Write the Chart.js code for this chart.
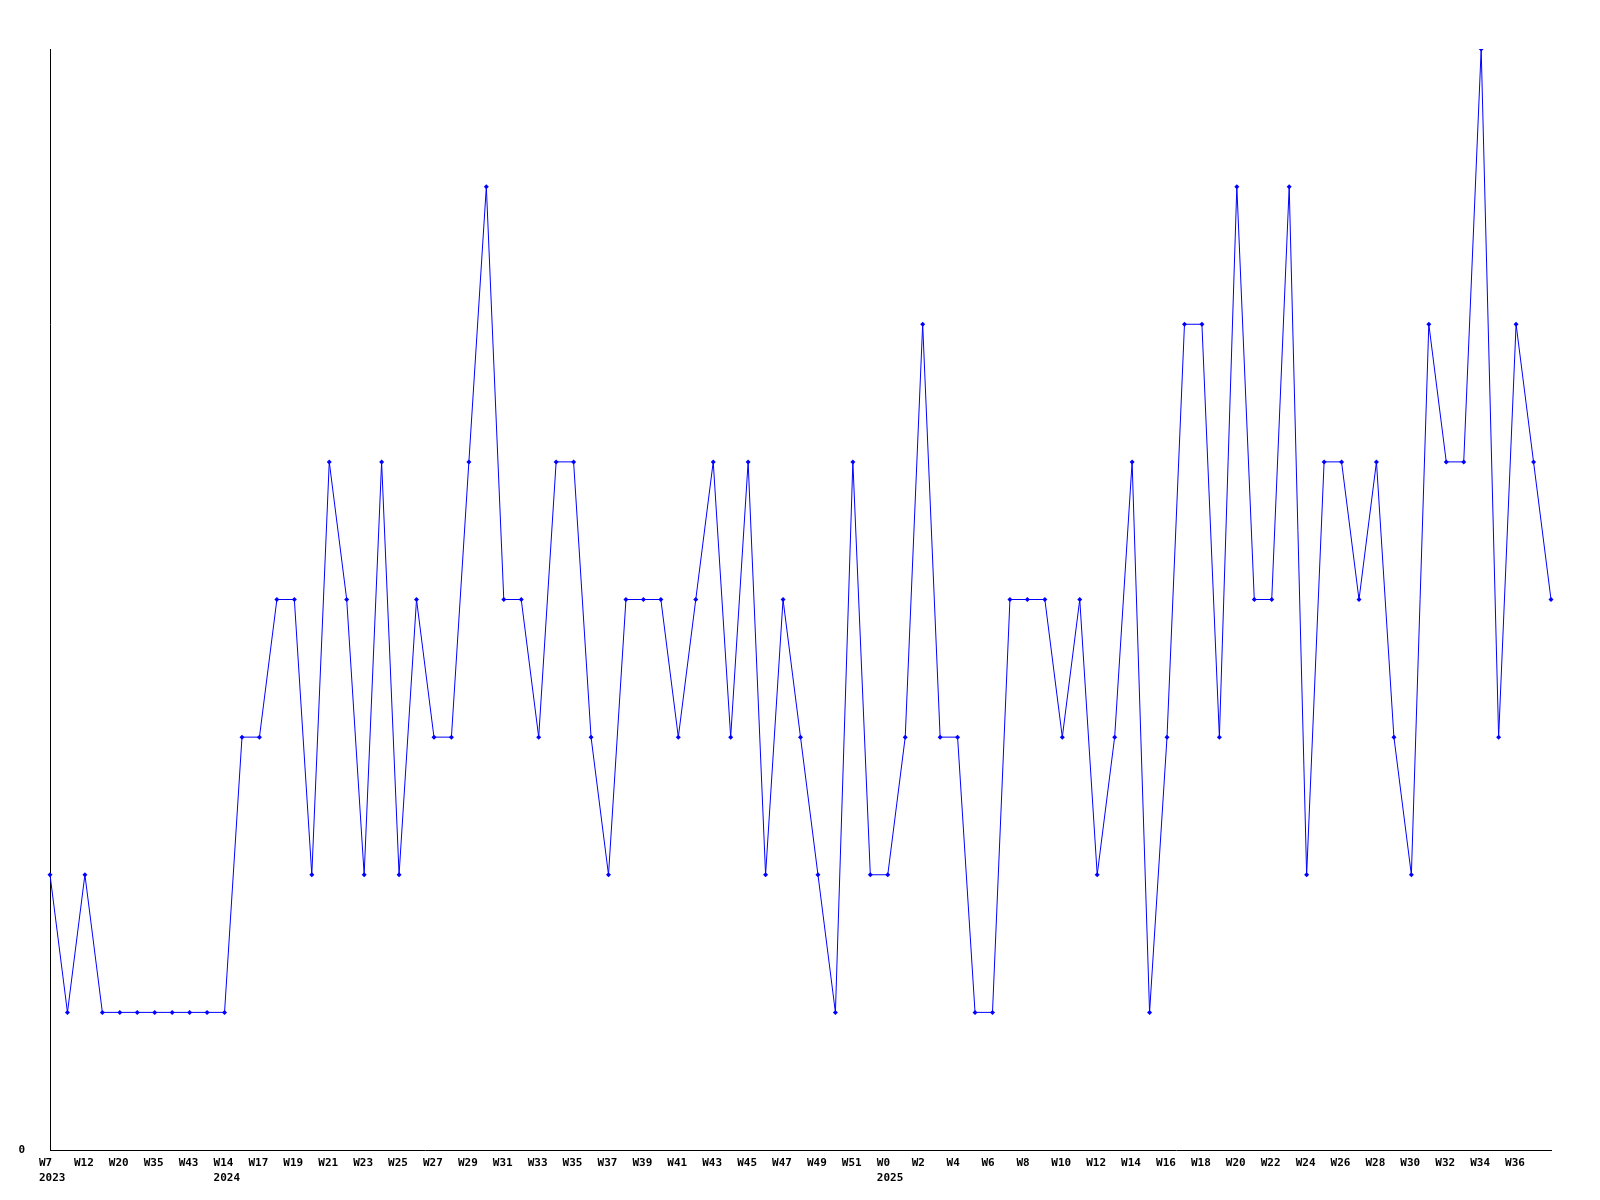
<!DOCTYPE html>
<html>
<head>
<meta charset="utf-8">
<script src="https://cdn.jsdelivr.net/npm/chart.js@4/dist/chart.umd.min.js"></script>
<style>
  html, body { margin: 0; padding: 0; background: #fff; }
  #wrap { width: 1600px; height: 1200px; }
</style>
</head>
<body>
<div id="wrap"><canvas id="weekChart" width="1600" height="1200"></canvas></div>
<script>
// weeks on the x axis (only every other one is printed)
const weeks = [
  'W7', 'W9', 'W12', 'W15', 'W20', 'W28', 'W35', 'W39', 'W43', 'W48',
  'W14', 'W16', 'W17', 'W18', 'W19', 'W20', 'W21', 'W22', 'W23', 'W24',
  'W25', 'W26', 'W27', 'W28', 'W29', 'W30', 'W31', 'W32', 'W33', 'W34',
  'W35', 'W36', 'W37', 'W38', 'W39', 'W40', 'W41', 'W42', 'W43', 'W44',
  'W45', 'W46', 'W47', 'W48', 'W49', 'W50', 'W51', 'W52',
  'W0', 'W1', 'W2', 'W3', 'W4', 'W5', 'W6', 'W7', 'W8', 'W9',
  'W10', 'W11', 'W12', 'W13', 'W14', 'W15', 'W16', 'W17', 'W18', 'W19',
  'W20', 'W21', 'W22', 'W23', 'W24', 'W25', 'W26', 'W27', 'W28', 'W29',
  'W30', 'W31', 'W32', 'W33', 'W34', 'W35', 'W36', 'W37', 'W38'
];

// year printed under the first week of each year
const yearStarts = { 0: '2023', 10: '2024', 48: '2025' };

// weekly counts
const counts = [
  2, 1, 2, 1, 1, 1, 1, 1, 1, 1, 1,
  3, 3, 4, 4, 2, 5, 4, 2, 5, 2,
  4, 3, 3, 5, 7, 4, 4, 3, 5, 5,
  3, 2, 4, 4, 4, 3, 4, 5, 3, 5,
  2, 4, 3, 2, 1, 5, 2, 2, 3, 6,
  3, 3, 1, 1, 4, 4, 4, 3, 4, 2,
  3, 5, 1, 3, 6, 6, 3, 7, 4, 4,
  7, 2, 5, 5, 4, 5, 3, 2, 6, 5,
  5, 8, 3, 6, 5, 4
];

const yMin = 0;
const yMax = 8;

const tickFont = { family: 'DejaVu Sans Mono', size: 11, weight: 'bold', lineHeight: 1.4 };

new Chart(document.getElementById('weekChart').getContext('2d'), {
  type: 'line',
  data: {
    labels: weeks,
    datasets: [{
      data: counts,
      borderColor: '#0000ff',
      backgroundColor: '#0000ff',
      borderWidth: 1,
      tension: 0,
      pointStyle: 'rectRot',
      pointRadius: 2.5,
      pointBorderWidth: 0,
      pointBackgroundColor: '#0000ff'
    }]
  },
  options: {
    responsive: false,
    animation: false,
    layout: { padding: { top: 49, right: 49, bottom: 0, left: 0 } },
    plugins: {
      legend: { display: false },
      tooltip: { enabled: false }
    },
    scales: {
      x: {
        offset: false,
        grid: { display: false, drawTicks: false },
        border: { display: true, color: '#000', width: 1 },
        afterFit: (scale) => { scale.height = 50; },
        ticks: {
          autoSkip: false,
          maxRotation: 0,
          minRotation: 0,
          align: 'start',
          labelOffset: -11,
          padding: 5,
          color: '#000',
          font: tickFont,
          callback: function (val, i) {
            // every other week; the last one would run off the edge
            if (i % 2 !== 0 || i === weeks.length - 1) return '';
            const w = this.getLabelForValue(val);
            return yearStarts[i] ? [w, yearStarts[i]] : w;
          }
        }
      },
      y: {
        min: yMin,
        max: yMax,
        grid: { display: false, drawTicks: false },
        border: { display: true, color: '#000', width: 1 },
        afterFit: (scale) => { scale.width = 50; },
        ticks: {
          stepSize: 1,
          padding: 25,
          color: '#000',
          font: tickFont,
          callback: (v) => (v === 0 ? '0' : '')
        }
      }
    }
  }
});
</script>
</body>
</html>
